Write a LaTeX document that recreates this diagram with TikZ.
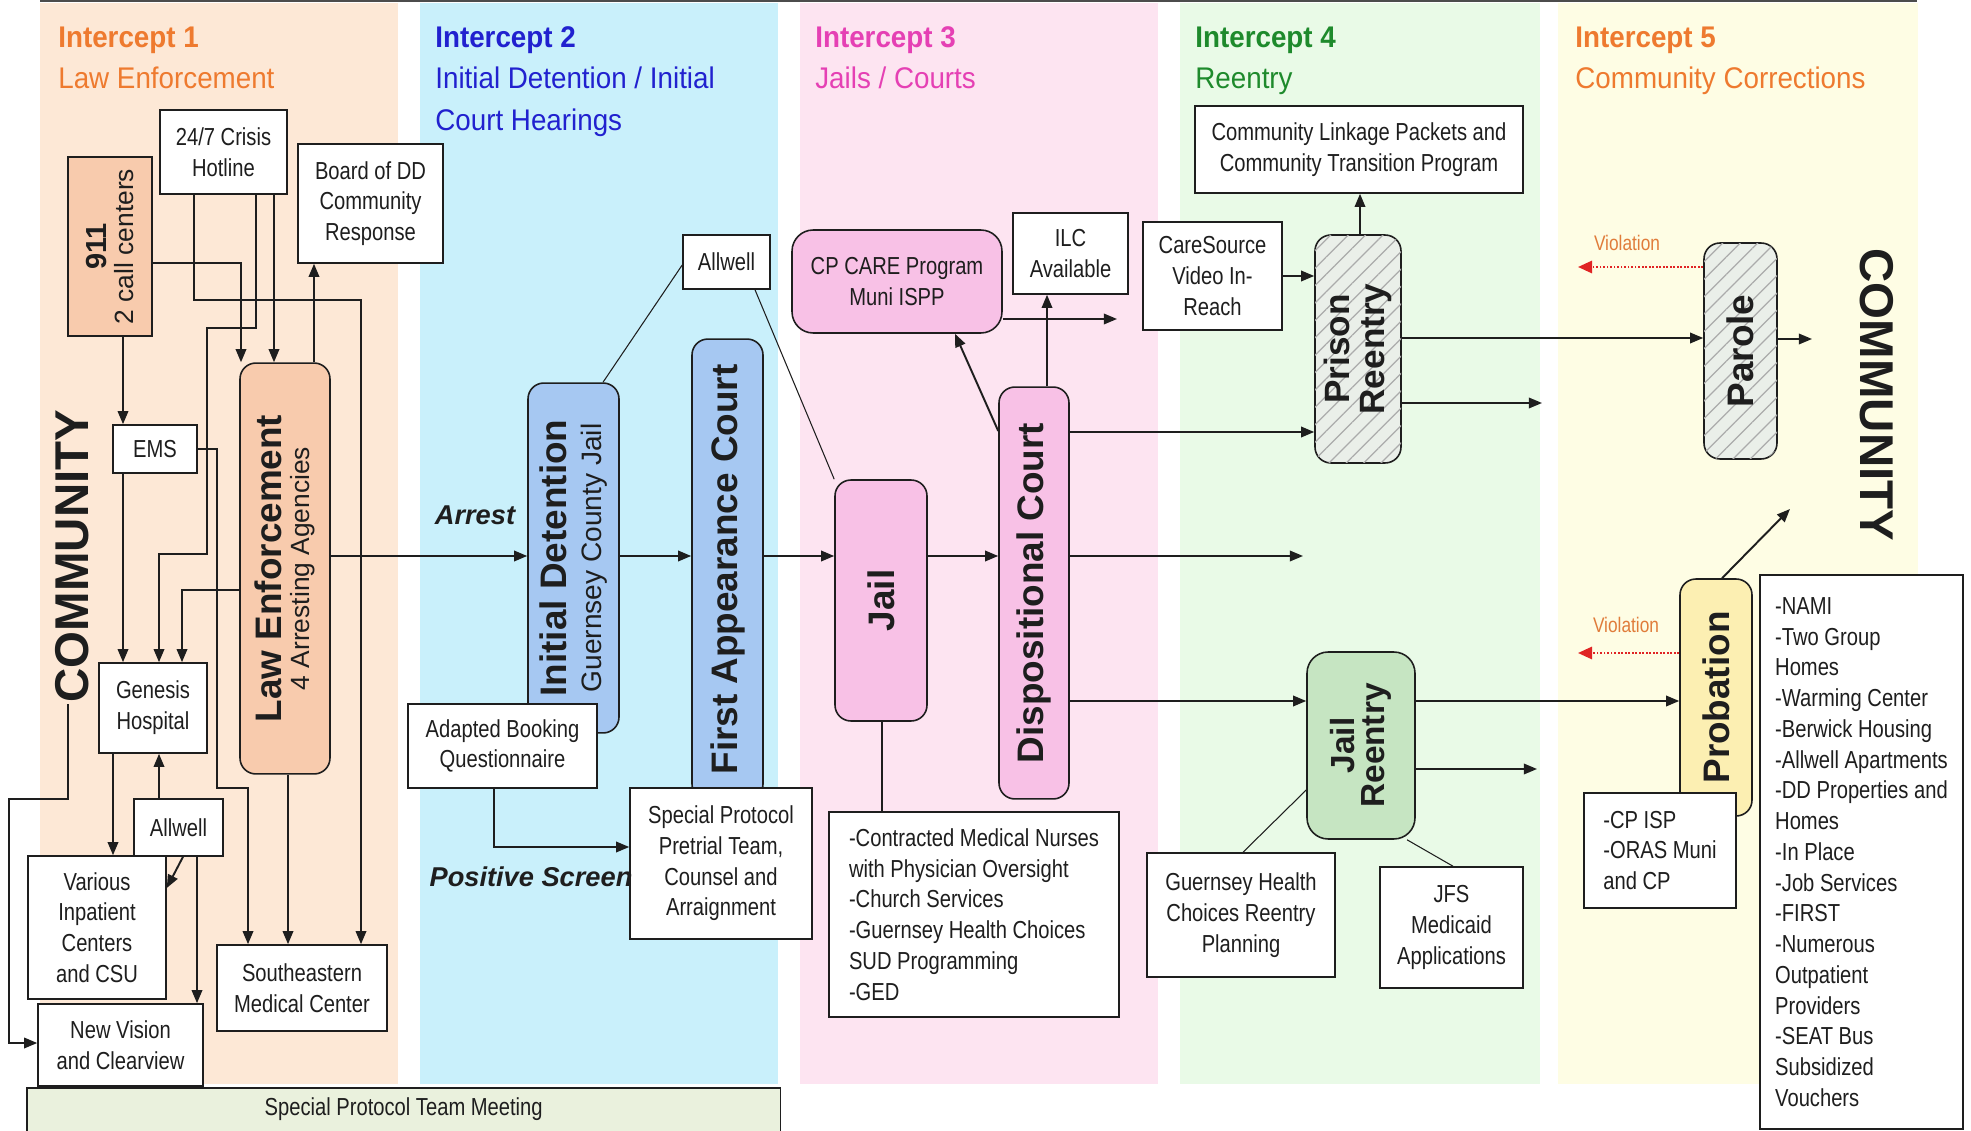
\documentclass[tikz,border=0pt]{standalone}
\usepackage{fontspec}
\setmainfont[FakeStretch=0.82]{Liberation Sans}
\newfontfamily\wide{Liberation Sans}
\newfontfamily\headf[FakeStretch=0.93]{Liberation Sans}
\usetikzlibrary{arrows.meta,patterns.meta}
\definecolor{bandA}{HTML}{FDE8D6}
\definecolor{bandB}{HTML}{C9F0FB}
\definecolor{bandC}{HTML}{FDE4F1}
\definecolor{bandD}{HTML}{E9FAE7}
\definecolor{bandE}{HTML}{FEFDE4}
\definecolor{orfill}{HTML}{F8CBAD}
\definecolor{blfill}{HTML}{A6C8F2}
\definecolor{pkfill}{HTML}{F8C1E6}
\definecolor{gnfill}{HTML}{C6E5C2}
\definecolor{ylfill}{HTML}{FCEFB2}
\definecolor{hatchbg}{HTML}{EAEFE9}
\definecolor{sptmfill}{HTML}{EAF1DD}
\definecolor{hOrange}{HTML}{EE7A2F}
\definecolor{hBlue}{HTML}{2121CF}
\definecolor{hMagenta}{HTML}{E540B4}
\definecolor{hGreen}{HTML}{1E8A2C}
\definecolor{violtxt}{HTML}{E07C3A}
\definecolor{violred}{HTML}{E02424}
\definecolor{ink}{HTML}{1E1E1E}
\begin{document}
\begin{tikzpicture}[x=0.02cm,y=-0.02cm,
  wh/.style 2 args={minimum width=#1*0.569pt, minimum height=#2*0.569pt},
  box/.style={draw=ink, line width=0.9pt, fill=white, align=center, inner sep=2pt, text=ink, font=\fontsize{14}{17.5}\selectfont},
  vbox/.style={box, rotate=90, rounded corners=9pt},
  obox/.style={vbox, fill=orfill},
  bbox/.style={vbox, fill=blfill},
  pbox/.style={vbox, fill=pkfill},
  gbox/.style={vbox, fill=gnfill},
  ybox/.style={vbox, fill=ylfill},
  hbox/.style={vbox, fill=hatchbg, postaction={pattern={Lines[angle=45,distance=7pt,line width=0.7pt]}, pattern color=black!33}},
  big/.style={font=\wide\bfseries\fontsize{21}{21}\selectfont},
  arr/.style={draw=ink, line width=1.1pt, -{Triangle[length=7.5pt,width=6pt]}},
  link/.style={draw=ink, line width=0.6pt},
  viol/.style={draw=violred, line width=1.2pt, dash pattern=on 1pt off 1pt, -{Triangle[length=8pt,width=7pt]}},
  hd/.style={anchor=base west, inner sep=0, font=\headf\fontsize{17}{20}\selectfont},
  lbl/.style={inner sep=0, text=ink, font=\wide\bfseries\itshape\fontsize{15.5}{18}\selectfont},
  vtxt/.style={inner sep=0, text=violtxt, font=\fontsize{12}{14}\selectfont}
]
\useasboundingbox (0,0) rectangle (1971,1131);
\clip (0,0) rectangle (1971,1131);
\fill[white] (0,0) rectangle (1971,1131);
% bands
\fill[bandA] (40,3) rectangle (398,1084);
\fill[bandB] (420,3) rectangle (778,1084);
\fill[bandC] (800,3) rectangle (1158,1084);
\fill[bandD] (1180,3) rectangle (1540,1084);
\fill[bandE] (1558,3) rectangle (1918,1084);
\draw[black!70, line width=1pt] (40,1) -- (1917,1);
% headings
\node[hd, text=hOrange] (h1a) at (58,48) {\bfseries Intercept 1};
\node[hd, text=hOrange] (h1b) at (58,89) {Law Enforcement};
\node[hd, text=hBlue] (h2a) at (435,48) {\bfseries Intercept 2};
\node[hd, text=hBlue] (h2b) at (435,89) {Initial Detention / Initial};
\node[hd, text=hBlue] (h2c) at (435,131) {Court Hearings};
\node[hd, text=hMagenta] (h3a) at (815,48) {\bfseries Intercept 3};
\node[hd, text=hMagenta] (h3b) at (815,89) {Jails / Courts};
\node[hd, text=hGreen] (h4a) at (1195,48) {\bfseries Intercept 4};
\node[hd, text=hGreen] (h4b) at (1195,89) {Reentry};
\node[hd, text=hOrange] (h5a) at (1575,48) {\bfseries Intercept 5};
\node[hd, text=hOrange] (h5b) at (1575,89) {Community Corrections};
% special protocol team meeting
\node[draw=ink, line width=0.9pt, fill=sptmfill, anchor=north west, minimum width=754*0.569pt, inner xsep=0pt, inner ysep=6pt, text height=10pt, text depth=30pt, text=ink, font=\fontsize{14}{17.5}\selectfont] (sptm) at (26,1087) {Special Protocol Team Meeting};
% Intercept 1
\node[box, wh={127}{84}] (hot) at (223.5,152) {24/7 Crisis\\Hotline};
\node[box, wh={145}{119}] (bod) at (370.5,203.5) {Board of DD\\Community\\Response};
\node[obox, rounded corners=0pt, wh={179}{84}, font=\wide\fontsize{15}{15}\selectfont] (n911) at (110,246.5) {{\bfseries\fontsize{16.5}{16}\selectfont 911}\\2 call centers};
\node[obox, wh={411}{90}, font=\wide\fontsize{15}{16}\selectfont] (LE) at (285,568.5) {{\bfseries\fontsize{21}{21}\selectfont Law Enforcement}\\4 Arresting Agencies};
\node[box, wh={84}{48}] (ems) at (155,449) {EMS};
\node[box, wh={108}{90}] (gen) at (153,708) {Genesis\\Hospital};
\node[box, wh={138}{143}] (var) at (97,927.5) {Various\\Inpatient\\Centers\\and CSU};
\node[box, wh={89}{57}] (aw1) at (178.5,827.5) {Allwell};
\node[box, wh={165}{82}] (nv) at (120.5,1045) {New Vision\\and Clearview};
\node[box, wh={170}{86}] (sem) at (302,988) {Southeastern\\Medical Center};
\node[rotate=90, inner sep=1pt, text=ink, font=\wide\bfseries\fontsize{27}{30}\selectfont] (comL) at (72,556) {COMMUNITY};
% Intercept 2
\node[bbox, wh={350}{91}, font=\wide\fontsize{16}{20}\selectfont] (ID) at (573.5,558) {{\bfseries\fontsize{21}{21}\selectfont Initial Detention}\\Guernsey County Jail};
\node[bbox, big, wh={461}{71}] (FAC) at (727.5,569.5) {First Appearance Court};
\node[box, wh={87}{54}] (aw2) at (726.5,262) {Allwell};
\node[box, wh={189}{84}] (abq) at (502.5,746) {Adapted Booking\\Questionnaire};
\node[box, wh={182}{151}] (sppt) at (721,863.5) {Special Protocol\\Pretrial Team,\\Counsel and\\Arraignment};
\node[lbl] (arrest) at (475,515) {Arrest};
\node[lbl] (pscreen) at (531,877) {Positive Screen};
% Intercept 3
\node[box, fill=pkfill, rounded corners=12pt, wh={210}{103}] (cpc) at (897,281.5) {CP CARE Program\\Muni ISPP};
\node[box, wh={115}{81}] (ilc) at (1070.5,253.5) {ILC\\Available};
\node[pbox, big, wh={241}{92}] (jail) at (881,600.5) {Jail};
\node[pbox, big, wh={412}{70}] (DC) at (1034,593) {Dispositional Court};
\node[box, wh={290}{205}, align=left] (med) at (974,914.5) {-Contracted Medical Nurses\\with Physician Oversight\\-Church Services\\-Guernsey Health Choices\\SUD Programming\\-GED};
% Intercept 4
\node[box, wh={328}{87}] (cl) at (1359,149.5) {Community Linkage Packets and\\Community Transition Program};
\node[box, wh={139}{108}] (cs) at (1212.5,276) {CareSource\\Video In-\\Reach};
\node[hbox, wh={228}{86}, font=\wide\bfseries\fontsize{20}{19.5}\selectfont] (PR) at (1358,349) {Prison\\Reentry};
\node[gbox, rounded corners=12pt, wh={187}{108}, font=\wide\bfseries\fontsize{19}{17}\selectfont] (JR) at (1361,745.5) {Jail\\Reentry};
\node[box, wh={188}{124}] (ghc) at (1241,915) {Guernsey Health\\Choices Reentry\\Planning};
\node[box, wh={143}{121}] (jfs) at (1451.5,927.5) {JFS\\Medicaid\\Applications};
% Intercept 5
\node[hbox, big, wh={216}{73}] (par) at (1740.5,351) {Parole};
\node[ybox, big, wh={237}{72}] (prob) at (1716,697.5) {Probation};
\node[box, wh={152}{115}, align=left] (cpisp) at (1660,850.5) {-CP ISP\\-ORAS Muni\\and CP};
\node[box, wh={203}{554}, align=left] (nami) at (1861.5,852) {-NAMI\\-Two Group\\Homes\\-Warming Center\\-Berwick Housing\\-Allwell Apartments\\-DD Properties and\\Homes\\-In Place\\-Job Services\\-FIRST\\-Numerous\\Outpatient\\Providers\\-SEAT Bus\\Subsidized\\Vouchers};
\node[rotate=-90, inner sep=1pt, text=ink, font=\wide\bfseries\fontsize{27}{30}\selectfont] (comR) at (1877,395) {COMMUNITY};
\node[vtxt] (v1) at (1627,243) {Violation};
\node[vtxt] (v2) at (1626,625) {Violation};
% free ends
\coordinate (e1) at (1303,556);
\coordinate (e2) at (1117,319);
\coordinate (e3) at (1542,403);
\coordinate (e4) at (1537,769);
\coordinate (e5) at (1578,267);
\coordinate (e6) at (1578,653);
\coordinate (e7) at (1812,339);
\coordinate (e8) at (1790,509);
% connectors, intercept 1
\draw[arr] (n911.south |- 0,263) -| (LE.east -| 241,0);
\draw[arr] (hot.south -| 194,0) |- (361,300) -- (sem.north -| 361,0);
\draw[arr] (hot.south -| 256,0) |- (207,328) |- (159,554) -- (gen.north -| 159,0);
\draw[arr] (hot.south -| 274,0) -- (LE.east -| 274,0);
\draw[arr] (LE.east -| 314,0) -- (bod.south -| 314,0);
\draw[arr] (n911.west -| 123,0) -- (ems.north -| 123,0);
\draw[arr] (ems.south -| 123,0) -- (gen.north -| 123,0);
\draw[arr] (ems.east |- 0,449) -| (217,788) -| (sem.north -| 248,0);
\draw[arr] (LE.north |- 0,590) -| (gen.north -| 182,0);
\draw[arr] (LE.west -| 288,0) -- (sem.north -| 288,0);
\draw[arr] (gen.south -| 113,0) -- (var.north -| 113,0);
\draw[arr] (aw1.north -| 159,0) -- (gen.south -| 159,0);
\draw[arr] (aw1.south -| 183,0) -- (var.east |- 0,888);
\draw[arr] (aw1.south -| 197,0) -- (nv.north -| 197,0);
\draw[arr] (comL.west -| 68,0) |- (9,799) |- (nv.west |- 0,1043);
% intercept 2
\draw[arr] (LE.south |- 0,556) -- (ID.north |- 0,556);
\draw[arr] (ID.south |- 0,556) -- (FAC.north |- 0,556);
\draw[arr] (FAC.south |- 0,556) -- (jail.north |- 0,556);
\draw[link] (ID.east -| 603,0) -- (aw2.west |- 0,265);
\draw[link] (aw2.south -| 755,0) -- (jail.north east);
\draw[arr] (abq.south -| 494,0) |- (sppt.west |- 0,847);
% intercept 3
\draw[arr] (jail.south |- 0,556) -- (DC.north |- 0,556);
\draw[arr] (DC.south |- 0,556) -- (e1);
\draw[arr] (DC.east -| 1047,0) -- (ilc.south -| 1047,0);
\draw[arr] (DC.north |- 0,431) -- (cpc.south -| 955,0);
\draw[arr] (cpc.east |- 0,319) -- (e2);
\draw[arr] (DC.south |- 0,432) -- (PR.north |- 0,432);
\draw[arr] (DC.south |- 0,701) -- (JR.north |- 0,701);
\draw[link] (jail.west -| 882,0) -- (med.north -| 882,0);
% intercept 4
\draw[arr] (cs.east |- 0,276) -- (PR.north |- 0,276);
\draw[arr] (PR.east -| 1360,0) -- (cl.south -| 1360,0);
\draw[arr] (PR.south |- 0,338) -- (par.north |- 0,338);
\draw[arr] (PR.south |- 0,403) -- (e3);
\draw[arr] (JR.south |- 0,701) -- (prob.north |- 0,701);
\draw[arr] (JR.south |- 0,769) -- (e4);
\draw[link] (JR.north |- 0,790) -- (ghc.north -| 1243,0);
\draw[link] (JR.west -| 1407,0) -- (jfs.north -| 1453,0);
% intercept 5
\draw[viol] (par.north |- 0,267) -- (e5);
\draw[viol] (prob.north |- 0,653) -- (e6);
\draw[arr] (par.south |- 0,339) -- (e7);
\draw[arr] (prob.east -| 1722,0) -- (e8);
\end{tikzpicture}
\end{document}
